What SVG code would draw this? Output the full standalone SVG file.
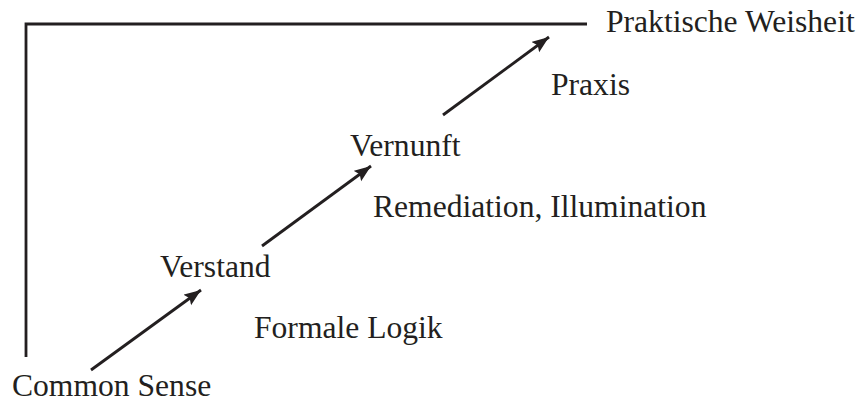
<svg xmlns="http://www.w3.org/2000/svg" width="859" height="403" viewBox="0 0 859 403">
<style>
text{font-family:"Liberation Serif","Times New Roman",serif;font-size:31.6px;fill:#231f20}
.ln{stroke:#231f20;stroke-width:2.8;fill:none}
</style>
<defs>
<marker id="ah" markerUnits="userSpaceOnUse" markerWidth="20" markerHeight="14" refX="17" refY="6.5" orient="auto">
<path d="M0,0 L17,6.5 L0,13 L3,6.5 Z" fill="#231f20"/>
</marker>
</defs>
<rect width="859" height="403" fill="#fff"/>
<g id="frame">
<path class="ln" d="M26,357 V24 H587"/>
</g>
<g id="connectors">
<line class="ln" x1="91" y1="370" x2="201" y2="290" marker-end="url(#ah)"/>
<line class="ln" x1="262" y1="246" x2="371" y2="166" marker-end="url(#ah)"/>
<line class="ln" x1="443" y1="115" x2="549" y2="37" marker-end="url(#ah)"/>
</g>
<g id="common-sense"><text x="12" y="396">Common Sense</text></g>
<g id="verstand"><text x="160" y="277">Verstand</text></g>
<g id="formale-logik"><text x="254" y="338">Formale Logik</text></g>
<g id="vernunft"><text x="350" y="156">Vernunft</text></g>
<g id="remediation"><text x="373" y="217">Remediation, Illumination</text></g>
<g id="praxis"><text x="551" y="95">Praxis</text></g>
<g id="weisheit"><text x="606" y="32">Praktische Weisheit</text></g>
</svg>
